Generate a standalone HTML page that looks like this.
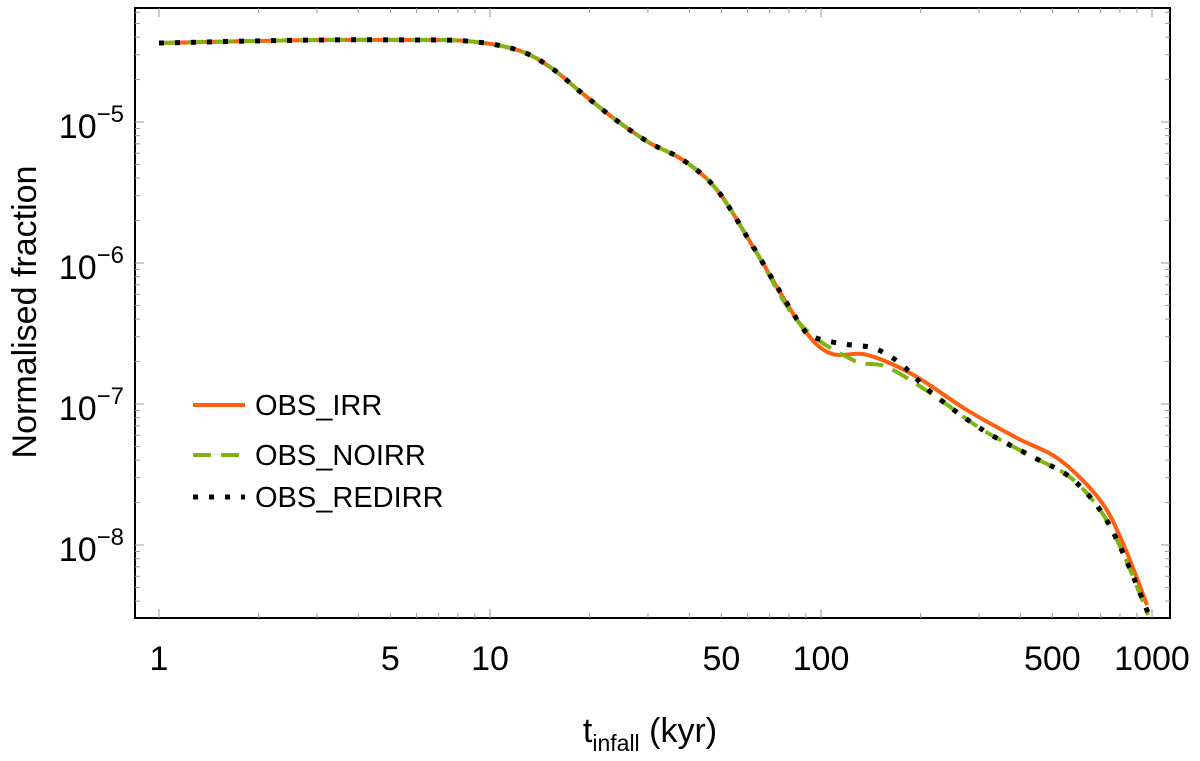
<!DOCTYPE html>
<html><head><meta charset="utf-8"><style>
body{margin:0;background:#fff;}
svg text{font-family:"Liberation Sans",sans-serif;}
</style></head><body>
<svg id="chart" width="1200" height="756" xmlns="http://www.w3.org/2000/svg">
<rect x="135" y="8" width="1035" height="610" fill="none" stroke="#000" stroke-width="2"/>
<g id="ticks"></g><g id="series"></g>
<text transform="translate(36,312) rotate(-90)" text-anchor="middle" font-size="34">Normalised fraction</text>
<text x="650" y="742" text-anchor="middle" font-size="34">t<tspan font-size="23" dy="9">infall</tspan><tspan dy="-9"> (kyr)</tspan></text>
<g>
<line x1="193" y1="405" x2="245" y2="405" stroke="#ff5f0f" stroke-width="4"/>
<text x="255" y="415" font-size="29">OBS_IRR</text>
<line x1="193" y1="455" x2="245" y2="455" stroke="#80b415" stroke-width="4" stroke-dasharray="18,10"/>
<text x="255" y="465" font-size="29">OBS_NOIRR</text>
<line x1="193" y1="497" x2="245" y2="497" stroke="#000" stroke-width="5" stroke-dasharray="5,11"/>
<text x="255" y="507" font-size="29">OBS_REDIRR</text>
</g>
</svg>
<script>
const common_t=[1,1.88,3.2,5.35,8.53,12.1,15.2,19.1,24.2,30.4,38.3,48.5,62.4,86];
const common_v=[3.63e-5,3.75e-5,3.82e-5,3.82e-5,3.75e-5,3.24e-5,2.45e-5,1.58e-5,1.02e-5,7.1e-6,5.37e-6,3.3e-6,1.3e-6,3.75e-7];
const irr_t=[106,138,190,276,391,527,697,817,966];
const irr_v=[2.30e-7,2.23e-7,1.61e-7,9.06e-8,5.74e-8,4.01e-8,2.08e-8,1.03e-8,3.75e-9];
const noirr_t=[125,158,218,308,437,565,697,817,973];
const noirr_v=[2.05e-7,1.83e-7,1.16e-7,6.55e-8,4.21e-8,3.03e-8,1.77e-8,8.8e-9,3.19e-9];
const redirr_t=[95,116,144,173,218,308,437,565,697,817,973];
const redirr_v=[2.99e-7,2.67e-7,2.49e-7,1.95e-7,1.18e-7,6.55e-8,4.21e-8,3.03e-8,1.77e-8,8.8e-9,3.3e-9];
const xTickVals=[1,5,10,50,100,500,1000];
const xTickLabels=["1","5","10","50","100","500","1000"];
const yTickExps=[-5,-6,-7,-8];

const NS="http://www.w3.org/2000/svg";
const X=t=>159+331*Math.log10(t);
const Y=v=>122+141*(-5-Math.log10(v));
const L=135,R=1170,T=8,B=618;
const tk=document.getElementById('ticks');
function mk(tag,a,p){const e=document.createElementNS(NS,tag);for(const k in a)e.setAttribute(k,a[k]);(p||tk).appendChild(e);return e;}
for(let d=0;d<=3;d++)for(let m=1;m<=9;m++){const t=m*Math.pow(10,d);const x=X(t);if(x<L||x>R)continue;const len=m===1?9:5;
 const a=mk('line',{x1:x,y1:B,x2:x,y2:B-len,stroke:'#999','stroke-width':1});
 
 const b=mk('line',{x1:x,y1:T,x2:x,y2:T+len,stroke:'#999','stroke-width':1});
 }
for(let e=-9;e<=-4;e++)for(let m=1;m<=9;m++){const v=m*Math.pow(10,e);const y=Y(v);if(y<T||y>B)continue;const len=m===1?9:5;
 const a=mk('line',{x1:L,y1:y,x2:L+len,y2:y,stroke:'#999','stroke-width':1});
 
 const b=mk('line',{x1:R,y1:y,x2:R-len,y2:y,stroke:'#999','stroke-width':1});
 }
xTickVals.forEach((t,i)=>{const s=mk('text',{x:X(t),y:670,'text-anchor':'middle','font-size':34});s.textContent=xTickLabels[i];
 });
yTickExps.forEach(e=>{const s=mk('text',{x:124,y:Y(Math.pow(10,e))+16,'text-anchor':'end','font-size':34});
 
 s.appendChild(document.createTextNode('10'));const sp=mk('tspan',{dy:-16,'font-size':24},s);sp.textContent='\u2212'+(-e);});
function path(ts,vs){const p=ts.map((t,i)=>[X(t),Y(vs[i])]);let d='M'+p[0][0]+','+p[0][1];
 for(let i=0;i<p.length-1;i++){const p0=p[Math.max(i-1,0)],p1=p[i],p2=p[i+1],p3=p[Math.min(i+2,p.length-1)];
 d+=' C'+(p1[0]+(p2[0]-p0[0])/6)+','+(p1[1]+(p2[1]-p0[1])/6)+' '+(p2[0]-(p3[0]-p1[0])/6)+','+(p2[1]-(p3[1]-p1[1])/6)+' '+p2[0]+','+p2[1];}return d;}
const sg=document.getElementById('series');
const s1=mk('path',{d:path(common_t.concat(irr_t),common_v.concat(irr_v)),fill:'none',stroke:'#ff5f0f','stroke-width':4},sg);

const s2=mk('path',{d:path(common_t.concat(noirr_t),common_v.concat(noirr_v)),fill:'none',stroke:'#80b415','stroke-width':4,'stroke-dasharray':'18,10'},sg);

const s3=mk('path',{d:path(common_t.concat(redirr_t),common_v.concat(redirr_v)),fill:'none',stroke:'#000','stroke-width':5,'stroke-dasharray':'5,11'},sg);

</script>
</body></html>
